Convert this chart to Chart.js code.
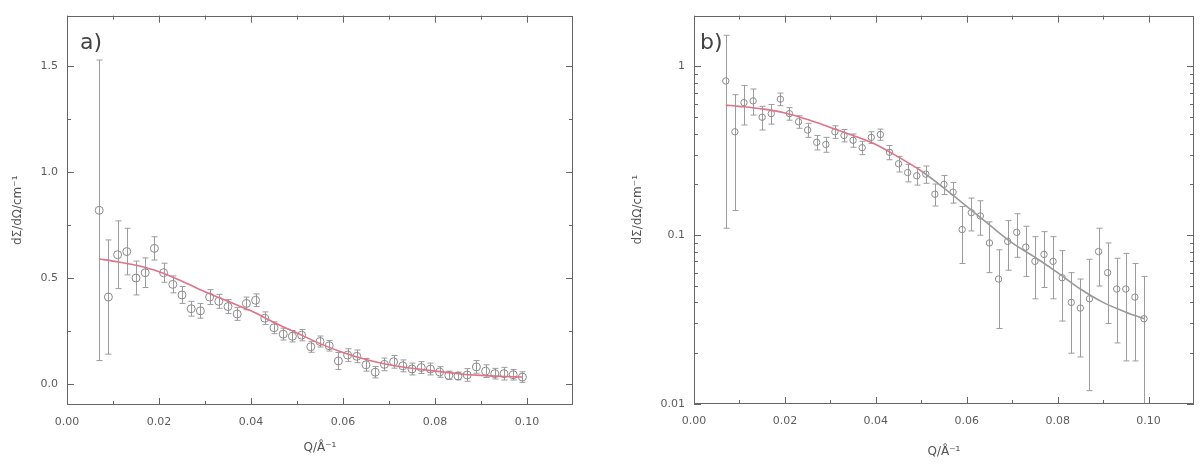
<!DOCTYPE html>
<html lang="en">
<head>
<meta charset="UTF-8" />
<title>SANS curves</title>
<script src="https://cdn.jsdelivr.net/npm/chart.js"></script>
<style>
  body { margin: 0; background: #fff; width: 1202px; height: 468px; overflow: hidden; position: relative; }
  canvas { position: absolute; top: 0; }
  #chartA { left: 0; }
  #chartB { left: 601px; }
</style>
</head>
<body>
<canvas id="chartA" width="600" height="468"></canvas>
<canvas id="chartB" width="601" height="468"></canvas>
<script>
// measured points (same data shown on linear and log axes)
const q = [0.007, 0.009, 0.011, 0.013, 0.015, 0.017, 0.019, 0.021, 0.023, 0.025,
           0.027, 0.029, 0.031, 0.033, 0.035, 0.037, 0.039, 0.041, 0.043, 0.045,
           0.047, 0.049, 0.051, 0.053, 0.055, 0.057, 0.059, 0.061, 0.063, 0.065,
           0.067, 0.069, 0.071, 0.073, 0.075, 0.077, 0.079, 0.081, 0.083, 0.085,
           0.087, 0.089, 0.091, 0.093, 0.095, 0.097, 0.099];
const intensity = [0.82, 0.41, 0.61, 0.625, 0.50, 0.525, 0.64, 0.525, 0.47, 0.42,
                   0.355, 0.345, 0.41, 0.39, 0.365, 0.33, 0.38, 0.395, 0.31, 0.265,
                   0.235, 0.225, 0.23, 0.175, 0.20, 0.18, 0.108, 0.136, 0.13, 0.09,
                   0.055, 0.092, 0.104, 0.085, 0.07, 0.077, 0.07, 0.056, 0.04, 0.037,
                   0.042, 0.08, 0.06, 0.048, 0.048, 0.043, 0.032];
const errors = [0.71, 0.27, 0.16, 0.11, 0.08, 0.07, 0.055, 0.045, 0.04, 0.04,
                0.035, 0.035, 0.035, 0.033, 0.033, 0.03, 0.03, 0.03, 0.03, 0.028,
                0.028, 0.027, 0.027, 0.026, 0.026, 0.025, 0.04, 0.03, 0.03, 0.03,
                0.027, 0.03, 0.03, 0.028, 0.028, 0.028, 0.028, 0.025, 0.02, 0.018,
                0.03, 0.03, 0.03, 0.025, 0.03, 0.025, 0.025];

// fitted curve
const fitQ = [0.007, 0.01, 0.015, 0.02, 0.025, 0.03, 0.035, 0.04, 0.045, 0.05,
              0.055, 0.06, 0.065, 0.07, 0.075, 0.08, 0.085, 0.09, 0.095, 0.099];
const fitI = [0.59, 0.58, 0.56, 0.53, 0.485, 0.435, 0.39, 0.345, 0.29, 0.24,
              0.19, 0.148, 0.115, 0.09, 0.074, 0.06, 0.048, 0.04, 0.035, 0.032];

// tick positions
const xMajor = [0, 0.02, 0.04, 0.06, 0.08, 0.10];
const xMinor = [0.01, 0.03, 0.05, 0.07, 0.09];
const yMajorA = [0, 0.5, 1.0, 1.5];
const yMinorA = [0.25, 0.75, 1.25];
const yMajorB = [0.01, 0.1, 1];
const yMinorB = [0.02, 0.03, 0.04, 0.05, 0.06, 0.07, 0.08, 0.09,
                 0.2, 0.3, 0.4, 0.5, 0.6, 0.7, 0.8, 0.9];

const points = q.map((v, i) => ({ x: v, y: intensity[i] }));
const fitLine = fitQ.map((v, i) => ({ x: v, y: fitI[i] }));

const errorBars = {
  id: 'errorBars',
  beforeDatasetsDraw(chart) {
    const { ctx, chartArea, scales: { x, y } } = chart;
    ctx.save();
    ctx.beginPath();
    ctx.rect(chartArea.left, chartArea.top, chartArea.width, chartArea.height);
    ctx.clip();
    ctx.strokeStyle = '#9c9c9c';
    ctx.lineWidth = 1;
    points.forEach((p, i) => {
      const e = errors[i];
      const px = Math.round(x.getPixelForValue(p.x)) + 0.5;
      const top = y.getPixelForValue(p.y + e);
      const lo = p.y - e;
      const bot = (y.type === 'logarithmic' && lo <= 0) ? chartArea.bottom + 5 : y.getPixelForValue(lo);
      ctx.beginPath();
      ctx.moveTo(px, top); ctx.lineTo(px, bot);
      ctx.moveTo(px - 3, top); ctx.lineTo(px + 3, top);
      ctx.moveTo(px - 3, bot); ctx.lineTo(px + 3, bot);
      ctx.stroke();
    });
    ctx.restore();
  }
};

const frame = {
  id: 'frame',
  afterDraw(chart, args, opts) {
    const { ctx, chartArea: a, scales: { x, y } } = chart;
    ctx.save();
    ctx.strokeStyle = '#666';
    ctx.lineWidth = 1;
    ctx.strokeRect(Math.round(a.left) + 0.5, Math.round(a.top) + 0.5,
                   Math.round(a.width) - 1, Math.round(a.height) - 1);
    ctx.beginPath();
    const xt = (list, len) => list.forEach(v => {
      const px = Math.round(x.getPixelForValue(v)) + 0.5;
      ctx.moveTo(px, a.bottom); ctx.lineTo(px, a.bottom - len);
      ctx.moveTo(px, a.top); ctx.lineTo(px, a.top + len);
    });
    const yt = (list, len) => list.forEach(v => {
      const py = Math.round(y.getPixelForValue(v)) + 0.5;
      ctx.moveTo(a.left, py); ctx.lineTo(a.left + len, py);
      ctx.moveTo(a.right, py); ctx.lineTo(a.right - len, py);
    });
    xt(opts.xMajor, 7); xt(opts.xMinor, 4);
    yt(opts.yMajor, 7); yt(opts.yMinor, 4);
    ctx.stroke();
    ctx.fillStyle = '#444';
    ctx.font = '22px "DejaVu Sans"';
    ctx.textBaseline = 'middle';
    ctx.fillText(opts.label, a.left + opts.labelDx, a.top + 28);
    ctx.restore();
  }
};

function makeChart(id, cfg) {
  const logY = cfg.log;
  return new Chart(document.getElementById(id), {
    type: 'scatter',
    data: {
      datasets: [
        {
          data: points,
          pointStyle: 'circle',
          pointRadius: cfg.radius,
          borderColor: '#8a8a8a',
          borderWidth: 1,
          backgroundColor: 'rgba(255,255,255,0)',
          order: 2
        },
        {
          type: 'line',
          data: fitLine,
          borderColor: '#e07388',
          borderWidth: 1.6,
          pointRadius: 0,
          cubicInterpolationMode: 'monotone',
          segment: cfg.greyTail ? {
            borderColor: c => c.p0.parsed.x >= 0.048 ? '#9a9a9a' : '#e07388'
          } : undefined,
          order: 1
        }
      ]
    },
    options: {
      responsive: false,
      animation: false,
      layout: { padding: { top: 13, right: cfg.padRight, left: 0, bottom: 0 } },
      plugins: {
        legend: { display: false },
        tooltip: { enabled: false },
        frame: {
          xMajor: xMajor, xMinor: xMinor,
          yMajor: cfg.yMajor, yMinor: cfg.yMinor,
          label: cfg.label, labelDx: cfg.labelDx
        }
      },
      scales: {
        x: {
          type: 'linear',
          min: 0,
          max: 0.11,
          afterFit: s => { s.height = cfg.xHeight; },
          afterBuildTicks: s => { s.ticks = xMajor.map(v => ({ value: v })); },
          grid: { display: false, drawTicks: false },
          border: { display: false },
          ticks: {
            autoSkip: false, maxRotation: 0, padding: 11,
            color: '#5c5c5c', font: { family: 'DejaVu Sans', size: 11 },
            callback: v => v.toFixed(2)
          },
          title: {
            display: true, text: 'Q/Å⁻¹', color: '#555',
            font: { family: 'DejaVu Sans', size: 12 },
            padding: { top: 0, bottom: cfg.xTitlePad }
          }
        },
        y: {
          type: logY ? 'logarithmic' : 'linear',
          min: cfg.yMin,
          max: cfg.yMax,
          afterFit: s => { s.width = cfg.yWidth; },
          afterBuildTicks: s => { s.ticks = cfg.yMajor.map(v => ({ value: v })); },
          grid: { display: false, drawTicks: false },
          border: { display: false },
          ticks: {
            autoSkip: false, padding: 9,
            color: '#5c5c5c', font: { family: 'DejaVu Sans', size: 11 },
            callback: cfg.yFmt
          },
          title: {
            display: true, text: 'dΣ/dΩ/cm⁻¹', color: '#555',
            font: { family: 'DejaVu Sans', size: 12 },
            padding: { top: cfg.yTitlePad, bottom: 0 }
          }
        }
      }
    },
    plugins: [errorBars, frame]
  });
}

makeChart('chartA', {
  log: false, yMin: -0.1, yMax: 1.74, yMajor: yMajorA, yMinor: yMinorA,
  yFmt: v => v.toFixed(1), label: 'a)', labelDx: 13, radius: 4, greyTail: false,
  padRight: 27, yWidth: 67, xHeight: 63, xTitlePad: 13, yTitlePad: 11
});

makeChart('chartB', {
  log: true, yMin: 0.01, yMax: 2, yMajor: yMajorB, yMinor: yMinorB,
  yFmt: v => String(v), label: 'b)', labelDx: 6, radius: 3.2, greyTail: true,
  padRight: 8, yWidth: 93, xHeight: 64, xTitlePad: 9, yTitlePad: 30
});
</script>
</body>
</html>
